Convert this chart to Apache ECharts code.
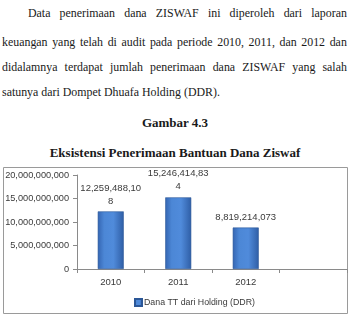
<!DOCTYPE html>
<html>
<head>
<meta charset="utf-8">
<script src="https://cdn.jsdelivr.net/npm/echarts@6/dist/echarts.min.js"></script>
<style>
  html, body { margin: 0; padding: 0; background: #ffffff; }
  #wrap { position: relative; width: 354px; height: 320px; overflow: hidden; }
  #chart { position: absolute; left: 0; top: 0; width: 354px; height: 320px; }
  .ln { position: absolute; left: 2px; width: 345px; font-family: "Liberation Serif", "Times New Roman", serif;
        font-size: 11.9px; line-height: 15px; color: #1a1a1a; white-space: nowrap; }
  .just { display: flex; justify-content: space-between; }
  .hd { position: absolute; left: 0; width: 350px; text-align: center; font-family: "Liberation Serif", "Times New Roman", serif;
        font-weight: bold; color: #1a1a1a; white-space: nowrap; }
</style>
</head>
<body>
<div id="wrap">
  <div class="ln just" style="top:6px; left:28px; width:319px;"><span>Data</span><span>penerimaan</span><span>dana</span><span>ZISWAF</span><span>ini</span><span>diperoleh</span><span>dari</span><span>laporan</span></div>
  <div class="ln just" style="top:35px;"><span>keuangan</span><span>yang</span><span>telah</span><span>di</span><span>audit</span><span>pada</span><span>periode</span><span>2010,</span><span>2011,</span><span>dan</span><span>2012</span><span>dan</span></div>
  <div class="ln just" style="top:60px;"><span>didalamnya</span><span>terdapat</span><span>jumlah</span><span>penerimaan</span><span>dana</span><span>ZISWAF</span><span>yang</span><span>salah</span></div>
  <div class="ln" style="top:85px;">satunya dari Dompet Dhuafa Holding (DDR).</div>
  <div class="hd" style="top:115px; font-size:13px; line-height:16px;">Gambar 4.3</div>
  <div class="hd" style="top:145px; font-size:13px; line-height:16px;">Eksistensi Penerimaan Bantuan Dana Ziswaf</div>
  <div id="chart"></div>
</div>
<script>
// ---- data ----
var categories = ['2010', '2011', '2012', ''];
var seriesName = 'Dana TT dari Holding (DDR)';
var values = [12259488108, 15246414834, 8819214073, null];
var yTicks = { min: 0, max: 20000000000, interval: 5000000000 };

function fmt(n) {
  return String(Math.round(n)).replace(/\B(?=(\d{3})+(?!\d))/g, ',');
}
function wrapLabel(s) {
  return s.length > 13 ? s.slice(0, 13) + '\n' + s.slice(13) : s;
}

var chart = echarts.init(document.getElementById('chart'), null, { renderer: 'canvas' });
var txt = '#3a3a3a';
var font = 'Liberation Sans';
chart.setOption({
  backgroundColor: 'transparent',
  animation: false,
  graphic: [{
    type: 'rect', silent: true, z: -1,
    shape: { x: 3.5, y: 167.5, width: 344, height: 146 },
    style: { fill: 'rgba(255,255,255,0)', stroke: '#9a9a9a', lineWidth: 1 }
  }],
  grid: { left: 77, right: 7, top: 175, bottom: 51, containLabel: false },
  legend: {
    data: [seriesName], left: 129, top: 293, itemWidth: 7, itemHeight: 7, itemGap: 4,
    icon: 'rect',
    textStyle: { fontFamily: font, fontSize: 8.8, color: txt, padding: [0, 0, 0, -3] }
  },
  xAxis: {
    type: 'category', data: categories,
    axisLine: { lineStyle: { color: '#8a8a8a', width: 1 } },
    axisTick: { show: true, length: 4, lineStyle: { color: '#8a8a8a' } },
    axisLabel: { fontFamily: font, fontSize: 9.5, color: txt, margin: 8 }
  },
  yAxis: {
    type: 'value', min: yTicks.min, max: yTicks.max, interval: yTicks.interval,
    axisLine: { show: true, lineStyle: { color: '#8a8a8a', width: 1 } },
    axisTick: { show: true, length: 4, lineStyle: { color: '#8a8a8a' } },
    splitLine: { show: false },
    axisLabel: { fontFamily: font, fontSize: 9.2, color: txt, margin: 8, formatter: function (v) { return fmt(v); } }
  },
  series: [{
    name: seriesName, type: 'bar', data: values, barWidth: 26,
    itemStyle: {
      color: {
        type: 'linear', x: 0, y: 0, x2: 1, y2: 0,
        colorStops: [
          { offset: 0, color: '#3465b2' },
          { offset: 0.25, color: '#4c87d6' },
          { offset: 0.6, color: '#508bdb' },
          { offset: 1, color: '#2f5ea6' }
        ]
      },
      borderColor: '#2b5797', borderWidth: 0.6
    },
    label: {
      show: true, position: 'top', distance: 4,
      fontFamily: font, fontSize: 9.5, color: txt, lineHeight: 13, align: 'center',
      formatter: function (p) { return wrapLabel(fmt(p.value)); }
    }
  }],
  color: ['#3f78c8']
});
</script>
</body>
</html>
